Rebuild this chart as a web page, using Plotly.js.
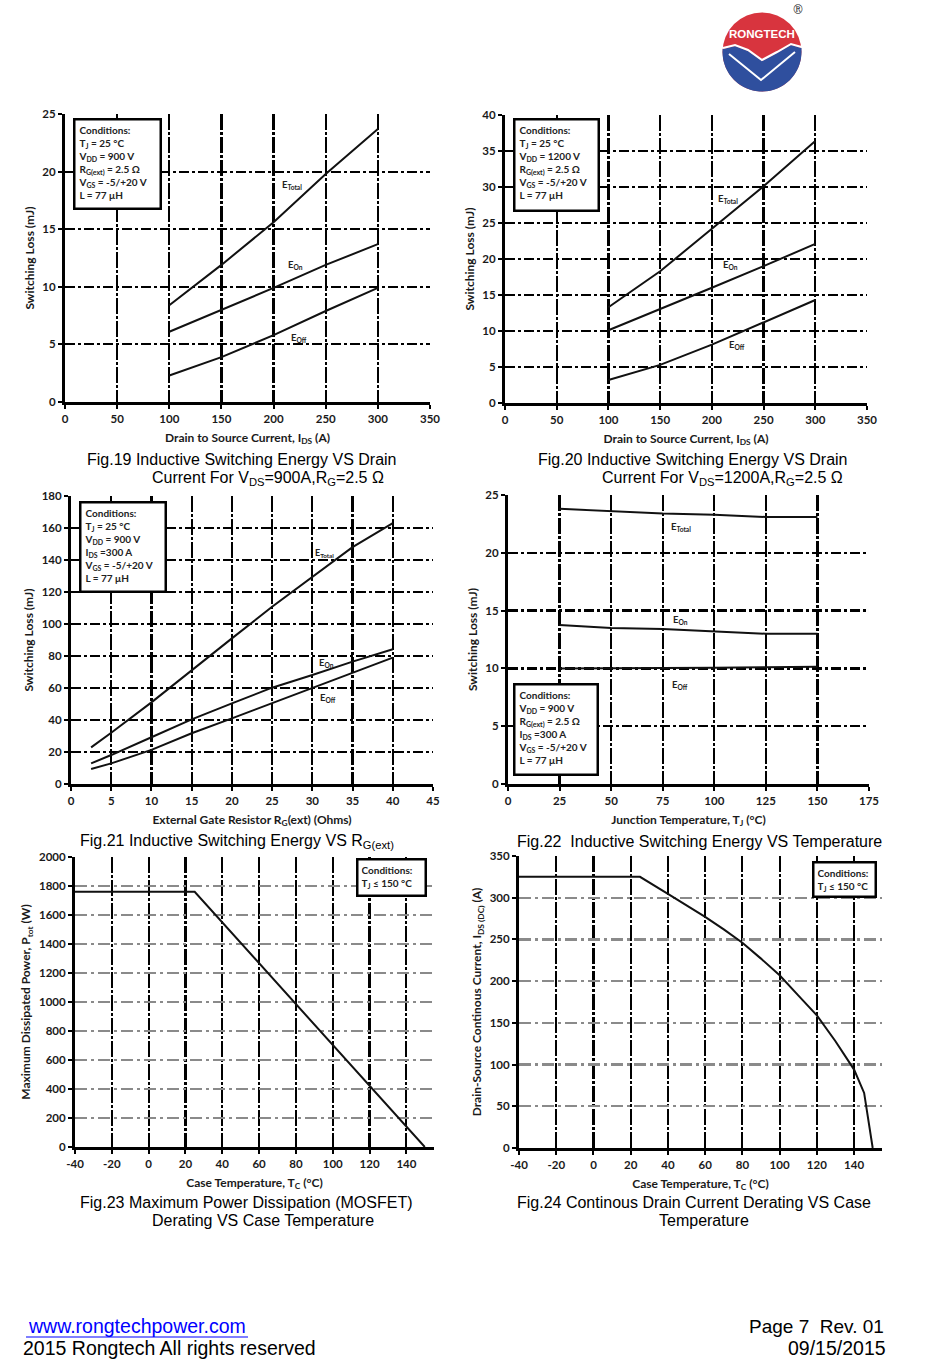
<!DOCTYPE html>
<html><head><meta charset="utf-8">
<script src="https://cdn.plot.ly/plotly-3.0.1.min.js"></script>
<style>html,body{margin:0;padding:0;background:#fff}#chart{width:940px;height:1366px}</style>
</head><body><div id="chart"></div>
<script>
// ---------- data ----------
const fig19_current = [100, 150, 200, 250, 300];
const fig19_eTotal = [8.4, 11.9, 15.6, 19.8, 23.7];
const fig19_eOn = [6.1, 8.0, 9.9, 11.9, 13.7];
const fig19_eOff = [2.3, 3.9, 5.8, 7.9, 9.9];

const fig20_current = [100, 150, 200, 250, 300];
const fig20_eTotal = [13.3, 18.3, 24.2, 30.1, 36.4];
const fig20_eOn = [10.1, 13.0, 16.0, 19.0, 22.1];
const fig20_eOff = [3.2, 5.3, 8.1, 11.2, 14.3];

const fig21_rg = [2.5, 5, 10, 15, 20, 25, 30, 35, 40];
const fig21_eTotal = [22.9, 32, 51, 71.3, 91, 110.8, 129.6, 148, 163];
const fig21_eOn = [12.9, 18.1, 29.2, 40.4, 50.4, 60.2, 68.1, 76.5, 84.2];
const fig21_eOff = [9.4, 12.9, 21.3, 31.7, 41.0, 50.4, 59.8, 69.2, 79];

const fig22_temp = [25, 50, 75, 100, 125, 150];
const fig22_eTotal = [23.8, 23.6, 23.4, 23.3, 23.1, 23.1];
const fig22_eOn = [13.75, 13.5, 13.4, 13.2, 13.0, 13.0];
const fig22_eOff = [10.0, 10.0, 10.0, 10.05, 10.1, 10.15];

const fig23_temp = [-40, 25, 150];
const fig23_power = [1760, 1760, 0];

const fig24_temp = [-40, 25, 40, 50, 60, 70, 80, 90, 100, 110, 120, 130, 140, 145.4, 150];
const fig24_current = [325, 325, 304.5, 291, 277, 262, 246, 227, 207, 183, 159, 128, 94, 66, 0];

const caseTempTicks = [-40, -20, 0, 20, 40, 60, 80, 100, 120, 140];
const caseTempLabels = ['-40', '-20', '0', '20', '40', '60', '80', '100', '120', '140'];

const conditions19 = ['Conditions:', 'T<sub>J</sub> = 25 °C', 'V<sub>DD</sub> = 900 V', 'R<sub>G(ext)</sub> = 2.5 Ω', 'V<sub>GS</sub> = -5/+20 V', 'L = 77 μH'];
const conditions20 = ['Conditions:', 'T<sub>J</sub> = 25 °C', 'V<sub>DD</sub> = 1200 V', 'R<sub>G(ext)</sub> = 2.5 Ω', 'V<sub>GS</sub> = -5/+20 V', 'L = 77 μH'];
const conditions21 = ['Conditions:', 'T<sub>J</sub> = 25 °C', 'V<sub>DD</sub> = 900 V', 'I<sub>DS</sub> =300 A', 'V<sub>GS</sub> = -5/+20 V', 'L = 77 μH'];
const conditions22 = ['Conditions:', 'V<sub>DD</sub> = 900 V', 'R<sub>G(ext)</sub> = 2.5 Ω', 'I<sub>DS</sub> =300 A', 'V<sub>GS</sub> = -5/+20 V', 'L = 77 μH'];
const conditions23 = ['Conditions:', 'T<sub>J</sub> ≤ 150 °C'];

// ---------- helpers ----------
const W = 940, H = 1366;
const px = x => x / W;
const py = y => 1 - y / H;
const NARROW = 'Lato, "Liberation Sans Narrow", sans-serif';
const ARIAL = '"Liberation Sans", Arial, sans-serif';
const tickFont = {family: NARROW, size: 11.5, color: '#1a1a1a', weight: 'bold'};
const titleFont = {family: NARROW, size: 12, color: '#1a1a1a', weight: 'bold'};

const layout = {
  width: W, height: H, margin: {l: 0, r: 0, t: 0, b: 0},
  paper_bgcolor: '#fff', plot_bgcolor: 'rgba(0,0,0,0)', showlegend: false,
  shapes: [], annotations: []
};
const traces = [];

function setAxes(n, box, xr, xdt, yr, ydt, xt, yt, grayH, ystand) {
  const s = n === 1 ? '' : String(n);
  layout['xaxis' + s] = {
    domain: [px(box[0]), px(box[2])], anchor: 'y' + s, range: xr, dtick: xdt, tick0: 0,
    showgrid: true, gridcolor: '#000', gridwidth: 2.2, griddash: '16px,2px,3px,2px',
    showline: true, linecolor: '#000', linewidth: 3, zeroline: false,
    ticks: 'outside', ticklen: 4, tickwidth: 2, tickcolor: '#000', tickfont: tickFont,
    title: {text: xt, font: titleFont, standoff: 10}, fixedrange: true
  };
  layout['yaxis' + s] = {
    domain: [py(box[3]), py(box[1])], anchor: 'x' + s, range: yr, dtick: ydt, tick0: 0,
    showgrid: true, gridcolor: grayH ? '#8a8a8a' : '#000', gridwidth: 2.2,
    griddash: grayH ? '12px,4px,3px,4px' : '10px,3px,3px,3px',
    showline: true, linecolor: '#000', linewidth: 3, zeroline: false,
    ticks: 'outside', ticklen: 4, tickwidth: 2, tickcolor: '#000', tickfont: tickFont,
    title: {text: yt, font: titleFont, standoff: ystand}, fixedrange: true
  };
}

function addLine(n, x, y) {
  const s = n === 1 ? '' : String(n);
  traces.push({x: x, y: y, type: 'scatter', mode: 'lines', xaxis: 'x' + s, yaxis: 'y' + s,
    line: {color: '#111', width: 2}, hoverinfo: 'skip'});
}

function label(n, x, y, text, size) {
  const s = n === 1 ? '' : String(n);
  layout.annotations.push({xref: 'x' + s, yref: 'y' + s, x: x, y: y, text: text, showarrow: false,
    xanchor: 'center', yanchor: 'middle',
    font: {family: NARROW, size: size || 9.5, color: '#222', weight: 'bold'}});
}

function condBox(x0, y0, x1, y1, lines) {
  const bw = 2.5, bp = 3;
  layout.annotations.push({xref: 'paper', yref: 'paper', x: px(x0), y: py(y0), xanchor: 'left', yanchor: 'top',
    text: lines.join('<br>'), align: 'left', valign: 'top', showarrow: false,
    bordercolor: '#000', borderwidth: bw, borderpad: bp, bgcolor: '#fff',
    width: (x1 - x0) - 2 * (bw + bp), height: (y1 - y0) - 2 * (bw + bp),
    font: {family: NARROW, size: 10, color: '#222', weight: 'bold'}});
}

function caption(x, y, text, size, anchor, color) {
  layout.annotations.push({xref: 'paper', yref: 'paper', x: px(x), y: py(y), xanchor: anchor || 'left', yanchor: 'middle',
    text: text, showarrow: false, font: {family: ARIAL, size: size || 16, color: color || '#000'}});
}

// ---------- Fig.19 ----------
setAxes(1, [65, 114, 430, 402], [0, 350], 50, [0, 25], 5,
  'Drain to Source Current, I<sub>DS</sub> (A)', 'Switching Loss (mJ)', false, 6);
addLine(1, fig19_current, fig19_eTotal);
addLine(1, fig19_current, fig19_eOn);
addLine(1, fig19_current, fig19_eOff);
label(1, 218, 18.8, 'E<sub>Total</sub>');
label(1, 221, 11.9, 'E<sub>On</sub>');
label(1, 224, 5.55, 'E<sub>Off</sub>');
condBox(73, 118, 162, 210, conditions19);

// ---------- Fig.20 ----------
setAxes(2, [505, 115, 867, 403], [0, 350], 50, [0, 40], 5,
  'Drain to Source Current, I<sub>DS</sub> (A)', 'Switching Loss (mJ)', false, 6);
addLine(2, fig20_current, fig20_eTotal);
addLine(2, fig20_current, fig20_eOn);
addLine(2, fig20_current, fig20_eOff);
label(2, 216, 28.3, 'E<sub>Total</sub>');
label(2, 218, 19.2, 'E<sub>On</sub>');
label(2, 224, 8.0, 'E<sub>Off</sub>');
condBox(513, 118, 600, 212, conditions20);

// ---------- Fig.21 ----------
setAxes(3, [71, 496, 433, 784], [0, 45], 5, [0, 180], 20,
  'External Gate Resistor R<sub>G</sub>(ext) (Ohms)', 'Switching Loss (mJ)', false, 6);
addLine(3, fig21_rg, fig21_eTotal);
addLine(3, fig21_rg, fig21_eOn);
addLine(3, fig21_rg, fig21_eOff);
label(3, 31.5, 144.5, 'E<sub>Total</sub>', 9);
label(3, 31.8, 75.5, 'E<sub>On</sub>');
label(3, 32, 53.5, 'E<sub>Off</sub>');
condBox(79, 501, 167, 593, conditions21);

// ---------- Fig.22 ----------
setAxes(4, [508, 495, 869, 784], [0, 175], 25, [0, 25], 5,
  'Junction Temperature, T<sub>J</sub> (°C)', 'Switching Loss (mJ)', false, 6);
addLine(4, fig22_temp, fig22_eTotal);
addLine(4, fig22_temp, fig22_eOn);
addLine(4, fig22_temp, fig22_eOff);
label(4, 84, 22.2, 'E<sub>Total</sub>');
label(4, 83.5, 14.2, 'E<sub>On</sub>');
label(4, 83.5, 8.6, 'E<sub>Off</sub>');
condBox(513, 683, 599, 776, conditions22);

// ---------- Fig.23 ----------
setAxes(5, [75, 857, 434, 1147], [-40, 155], 20, [0, 2000], 200,
  'Case Temperature, T<sub>C</sub> (°C)', 'Maximum Dissipated Power, P<sub>tot</sub> (W)', true, 6);
layout.xaxis5.tickmode = 'array';
layout.xaxis5.tickvals = caseTempTicks;
layout.xaxis5.ticktext = caseTempLabels;
addLine(5, fig23_temp, fig23_power);
condBox(356, 858, 427, 897, conditions23);

// ---------- Fig.24 ----------
setAxes(6, [519, 856, 882, 1148], [-40, 155], 20, [0, 350], 50,
  'Case Temperature, T<sub>C</sub> (°C)', 'Drain-Source Continous Current, I<sub>DS (DC)</sub> (A)', true, 6);
layout.xaxis6.tickmode = 'array';
layout.xaxis6.tickvals = caseTempTicks;
layout.xaxis6.ticktext = caseTempLabels;
addLine(6, fig24_temp, fig24_current);
condBox(812, 861, 877, 898, conditions23);

// ---------- captions ----------
caption(85, 459, 'Fig.19 Inductive Switching Energy VS Drain');
caption(150, 478, 'Current For V<sub>DS</sub>=900A,R<sub>G</sub>=2.5 Ω');
caption(536, 459, 'Fig.20 Inductive Switching Energy VS Drain');
caption(600, 478, 'Current For V<sub>DS</sub>=1200A,R<sub>G</sub>=2.5 Ω');
caption(78, 841, 'Fig.21 Inductive Switching Energy VS R<sub>G(ext)</sub>');
caption(515, 841, 'Fig.22  Inductive Switching Energy VS Temperature');
caption(78, 1202, 'Fig.23 Maximum Power Dissipation (MOSFET)');
caption(150, 1220, 'Derating VS Case Temperature');
caption(515, 1202, 'Fig.24 Continous Drain Current Derating VS Case');
caption(657, 1220, 'Temperature');

// ---------- footer ----------
caption(26, 1326, 'www.rongtechpower.com', 19.5, 'left', '#0000ff');
layout.shapes.push({type: 'line', xref: 'paper', yref: 'paper', x0: px(26), x1: px(248), y0: py(1337), y1: py(1337), line: {color: '#0000ff', width: 1.2}});
caption(21, 1348, '2015 Rongtech All rights reserved', 19.5, 'left');
caption(886, 1326, 'Page 7  Rev. 01', 19, 'right');
caption(888, 1348, '09/15/2015', 19.5, 'right');

// ---------- logo ----------
(function () {
  const cx = 762, cy = 52, r = 39.5;
  layout.shapes.push({type: 'circle', xref: 'paper', yref: 'paper', x0: px(cx - r), x1: px(cx + r), y0: py(cy + r), y1: py(cy - r),
    fillcolor: '#d8343e', line: {width: 0}});
  const wave = [[723, 49], [735, 46], [748, 51], [762, 61], [777, 53], [791, 45], [801.5, 48]];
  let d = 'M ' + wave.map(p => px(p[0]) + ' ' + py(p[1])).join(' L ');
  const a0 = Math.atan2(48 - cy, 801.5 - cx), a1 = Math.PI - Math.atan2(49 - cy, cx - 723);
  for (let i = 1; i <= 40; i++) {
    const a = a0 + (a1 - a0) * i / 40;
    d += ' L ' + px(cx + r * Math.cos(a)) + ' ' + py(cy + r * Math.sin(a));
  }
  d += ' Z';
  layout.shapes.push({type: 'path', xref: 'paper', yref: 'paper', path: d, fillcolor: '#2f4f9e', line: {width: 0}});
  const wl = 'M ' + wave.map(p => px(p[0]) + ' ' + py(p[1] - 1)).join(' L ');
  layout.shapes.push({type: 'path', xref: 'paper', yref: 'paper', path: wl, line: {color: '#fff', width: 2}});
  const v = [[729, 54], [761, 80], [795, 52]];
  layout.shapes.push({type: 'path', xref: 'paper', yref: 'paper',
    path: 'M ' + v.map(p => px(p[0]) + ' ' + py(p[1])).join(' L '), line: {color: '#fff', width: 2}});
  layout.annotations.push({xref: 'paper', yref: 'paper', x: px(762), y: py(34), xanchor: 'center', yanchor: 'middle',
    text: '<b>RONGTECH</b>', showarrow: false, font: {family: ARIAL, size: 11.5, color: '#fff'}});
  layout.annotations.push({xref: 'paper', yref: 'paper', x: px(798), y: py(10), xanchor: 'center', yanchor: 'middle',
    text: '®', showarrow: false, font: {family: 'DejaVu Serif, serif', size: 12, color: '#333'}});
})();

Plotly.newPlot('chart', traces, layout, {displayModeBar: false, staticPlot: true});
</script>
</body></html>
